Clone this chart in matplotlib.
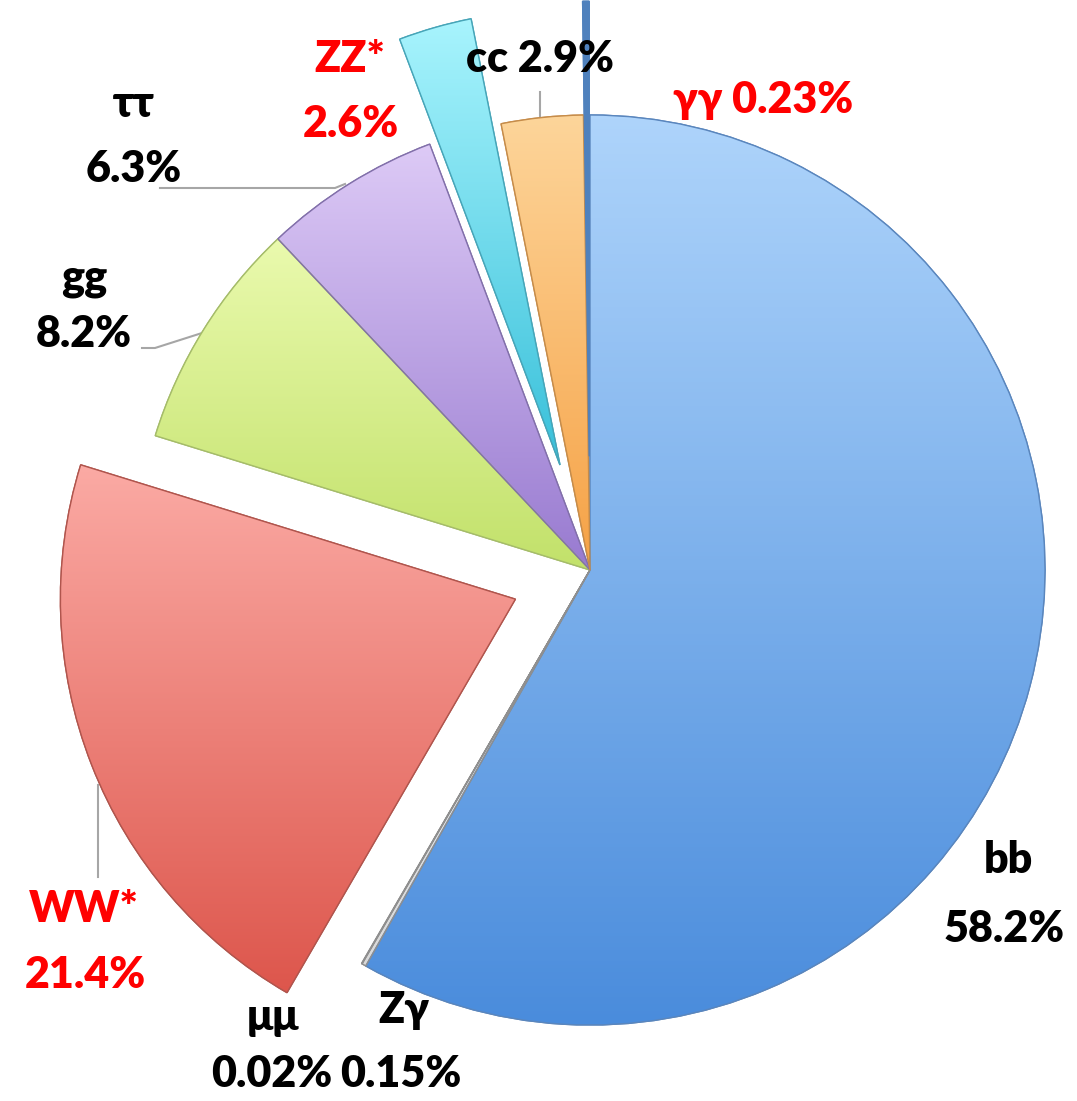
import numpy as np
import matplotlib
matplotlib.use("Agg")
import matplotlib.pyplot as plt
from matplotlib.colors import LinearSegmentedColormap
from matplotlib.patches import PathPatch

# Higgs decay branching ratios (clockwise from 12 o'clock)
channels = ["bb", "Zγ", "μμ", "WW*", "gg", "ττ", "ZZ*", "cc", "γγ"]
fractions = [58.2, 0.15, 0.02, 21.4, 8.2, 6.3, 2.6, 2.9, 0.23]
pct_text = ["58.2%", "0.15%", "0.02%", "21.4%", "8.2%", "6.3%", "2.6%", "2.9%", "0.23%"]
explode = [0, 0, 0, 0.176, 0, 0, 0.24, 0, 0.25]
# light (top) -> dark (bottom) gradient for each slice
top_colors = ["#AED4FB", "#F4F4F4", "#F4F4F4", "#FBAAA4", "#EAFAAE", "#DDCAF6", "#A8F4FD", "#FDD59A", "#4F81BD"]
bot_colors = ["#4A8CDC", "#D9D9D9", "#D9D9D9", "#DD564C", "#C2E16A", "#987AD0", "#38C0DA", "#F6A246", "#4F81BD"]
edge_colors = ["#5A86BD", "#8F8F8F", "#8F8F8F", "#B0554D", "#A5BC6A", "#8270AA", "#47A5B8", "#C68C4A", "#4F81BD"]
red_labels = {"WW*", "ZZ*", "γγ"}

# image geometry (pixels)
W, H = 1077, 1101
CX, CY, R = 590, 570, 455


def px(x, y):
    return (x - CX) / R, (CY - y) / R


fig = plt.figure(figsize=(W / 100, H / 100), dpi=100)
ax = fig.add_axes([0, 0, 1, 1])

wedges, _ = ax.pie(fractions, startangle=90, counterclock=False, explode=explode,
                   radius=1, wedgeprops=dict(linewidth=1.0))

for w, c0, c1, ec in zip(wedges, top_colors, bot_colors, edge_colors):
    w.set_edgecolor(ec)
    w.set_facecolor(c1)
    ext = w.get_path().get_extents()
    cmap = LinearSegmentedColormap.from_list("g", [c0, c1])
    grad = np.linspace(0, 1, 256).reshape(-1, 1)
    im = ax.imshow(grad, cmap=cmap, aspect="auto", origin="upper",
                   extent=(ext.x0, ext.x1, ext.y0, ext.y1), zorder=w.get_zorder() + 0.1)
    im.set_clip_path(w)
    # redraw outline above gradient
    ax.add_patch(PathPatch(w.get_path(), fill=False, edgecolor=ec,
                           lw=1.0, zorder=w.get_zorder() + 0.2))

# label placement (pixel centre x, baseline y for the name and the percentage)
label_pos = {
    "bb": [(1008, 873), (1004, 942)],
    "Zγ": [(404, 1023), (401, 1087)],
    "μμ": [(273, 1030), (272, 1087)],
    "WW*": [(84, 922), (85, 988)],
    "gg": [(84, 290), (84, 347)],
    "ττ": [(134, 117), (134, 182)],
    "ZZ*": [(350, 72), (351, 137)],
}
fam = ["Lato", "Open Sans", "DejaVu Sans"]
fs = 31
fw = "heavy"
for name, pct in zip(channels, pct_text):
    col = "#FF0000" if name in red_labels else "black"
    if name in label_pos:
        (x1, y1), (x2, y2) = label_pos[name]
        ax.text(*px(x1, y1), name, ha="center", va="baseline", fontsize=fs,
                fontweight=fw, color=col, family=fam)
        ax.text(*px(x2, y2), pct, ha="center", va="baseline", fontsize=fs,
                fontweight=fw, color=col, family=fam)
ax.text(*px(540, 72), "cc 2.9%", ha="center", va="baseline", fontsize=fs,
        fontweight=fw, color="black", family=fam)
ax.text(*px(763, 113), "γγ 0.23%", ha="center", va="baseline", fontsize=fs,
        fontweight=fw, color="#FF0000", family=fam)

# leader lines
leaders = [
    [(98, 785), (98, 877)],
    [(160, 188), (335, 188), (345, 184)],
    [(142, 348), (155, 348), (202, 333)],
    [(540, 92), (540, 117)],
]
for pts in leaders:
    xs, ys = zip(*[px(*p) for p in pts])
    ax.plot(xs, ys, color="#A6A6A6", lw=1.5, zorder=0.5)

ax.set_xlim(-CX / R, (W - CX) / R)
ax.set_ylim((CY - H) / R, CY / R)
ax.set_aspect("equal")
ax.axis("off")
fig.savefig("out.png", dpi=100, facecolor="white")
